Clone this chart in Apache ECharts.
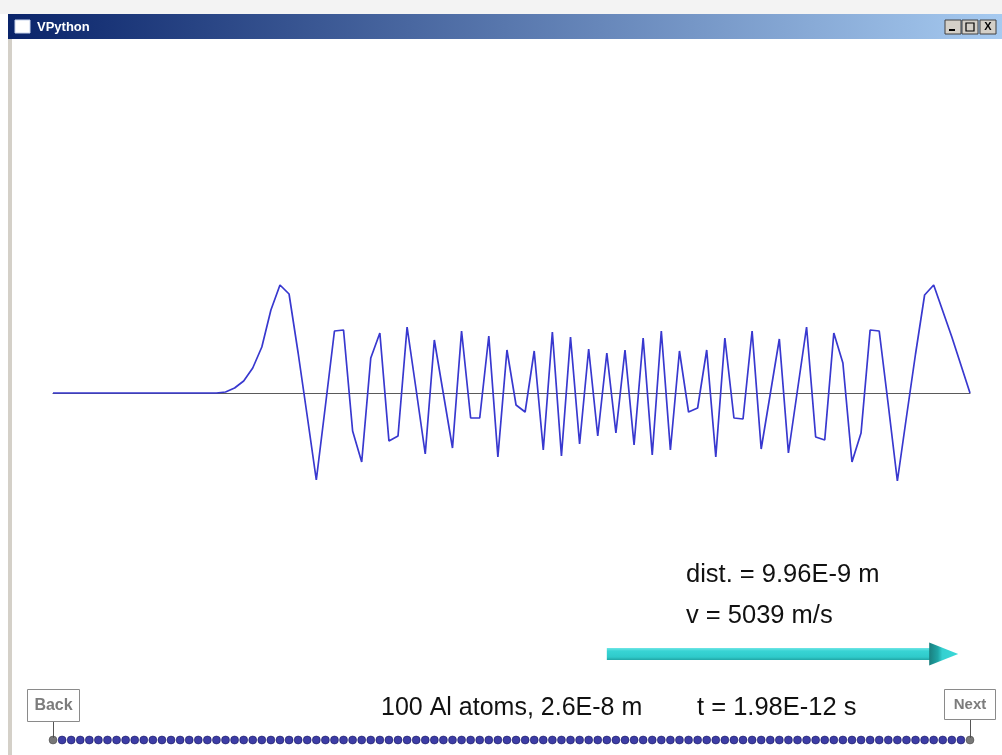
<!DOCTYPE html>
<html>
<head>
<meta charset="utf-8">
<script src="https://cdn.jsdelivr.net/npm/echarts@6.0.0/dist/echarts.min.js"></script>
<style>
html,body{margin:0;padding:0;background:#ffffff;}
#c{width:1002px;height:755px;}
</style>
</head>
<body>
<div id="c"></div>
<script>
// Displacement of each atom in the chain (index 0..101)
const displacement = [
  0, 0, 0, 0, 0, 0, 0, 0, 0, 0,
  0, 0, 0, 0, 0, 0, 0, 0, 0, 1,
  5, 12, 25, 46, 83, 108, 99, 40, -23, -87,
  -13, 62, 63, -38, -69, 35, 60, -48, -43, 66,
  3, -61, 53, -1, -55, 62, -25, -25, 57, -64,
  43, -12, -19, 42, -57, 61, -63, 56, -51, 44,
  -43, 40, -40, 43, -52, 55, -62, 62, -57, 42,
  -19, -15, 43, -64, 55, -25, -26, 62, -56, -1,
  54, -60, 3, 66, -44, -47, 60, 30, -69, -40,
  63, 62, -12, -88, -24, 39, 98, 108, 82, 56,
  28, 0
];
// Atom indices (categories along the chain)
const atomIndex = displacement.map((_, i) => i);
// Fixed end atoms
const endAtoms = [0, displacement.length - 1];
// Level of the atom row and velocity arrow (same units as displacement)
const atomRowLevel = [-347];
const arrowSpan = [61, 99.7];   // from atom index to atom index
const arrowLevel = [-261];
// Text labels
const distLabel = 'dist. = 9.96E-9 m';
const speedLabel = 'v = 5039 m/s';
const chainLabel = '100 Al atoms, 2.6E-8 m';
const timeLabel = 't = 1.98E-12 s';
const windowTitle = 'VPython';

const chart = echarts.init(document.getElementById('c'), null, {renderer: 'canvas'});
const FONT = '"Liberation Sans", Arial, sans-serif';

const option = {
  animation: false,
  backgroundColor: '#ffffff',
  grid: {left: 53, right: 32, top: 38, bottom: 12},
  xAxis: {
    type: 'value', min: 0, max: displacement.length - 1,
    axisLine: {show: true, onZero: true, lineStyle: {color: '#5a5a5a', width: 1.2}},
    axisTick: {show: false}, axisLabel: {show: false}, splitLine: {show: false}
  },
  yAxis: {
    type: 'value', min: -350, max: 355,
    axisLine: {show: false}, axisTick: {show: false}, axisLabel: {show: false}, splitLine: {show: false}
  },
  series: [
    {
      type: 'line',
      data: displacement.map((v, i) => [atomIndex[i], v]),
      showSymbol: false,
      lineStyle: {color: '#3838cf', width: 1.7},
      z: 3
    },
    {
      type: 'scatter',
      data: atomIndex.map(i => ({
        value: [i, atomRowLevel[0]],
        itemStyle: endAtoms.includes(i)
          ? {color: '#555555', borderColor: '#333', borderWidth: 0.5}
          : {color: '#0c0c8e', borderColor: '#06064e', borderWidth: 0.6}
      })),
      symbol: 'circle',
      symbolSize: 8,
      z: 4
    },
    {
      type: 'custom',
      data: [[arrowSpan[0], arrowSpan[1], arrowLevel[0]]],
      renderItem: function (params, api) {
        const s = api.coord([api.value(0), api.value(2)]);
        const e = api.coord([api.value(1), api.value(2)]);
        const headLen = 29, shaftH = 12, headH = 23;
        const shaftEnd = e[0] - headLen;
        return {
          type: 'group',
          children: [
            {
              type: 'rect',
              shape: {x: s[0], y: s[1] - shaftH / 2, width: shaftEnd - s[0] + 1, height: shaftH},
              style: {
                fill: new echarts.graphic.LinearGradient(0, 0, 0, 1, [
                  {offset: 0, color: '#6fe6e6'},
                  {offset: 0.25, color: '#38d4d4'},
                  {offset: 0.75, color: '#2fcaca'},
                  {offset: 1, color: '#22a6a6'}
                ])
              }
            },
            {
              type: 'polygon',
              shape: {points: [[shaftEnd, s[1] - headH / 2], [e[0], s[1]], [shaftEnd, s[1] + headH / 2]]},
              style: {
                fill: new echarts.graphic.LinearGradient(0, 0, 1, 0, [
                  {offset: 0, color: '#1a7f7f'},
                  {offset: 0.3, color: '#1fa5a5'},
                  {offset: 0.45, color: '#34d0d0'},
                  {offset: 1, color: '#3cd8d8'}
                ])
              }
            }
          ]
        };
      },
      z: 5
    }
  ],
  graphic: [
    // window frame
    {type: 'rect', shape: {x: 0, y: 0, width: 1002, height: 14}, style: {fill: '#f3f3f3'}, z: 1},
    {type: 'rect', shape: {x: 8, y: 14, width: 4, height: 741}, style: {fill: '#d4d0c8'}, z: 1},
    {type: 'rect', shape: {x: 8, y: 14, width: 994, height: 25},
      style: {fill: new echarts.graphic.LinearGradient(0, 0, 1, 0, [
        {offset: 0, color: '#0a246a'}, {offset: 1, color: '#a6caf0'}])}, z: 2},
    {type: 'rect', shape: {x: 15, y: 20, width: 15, height: 13}, style: {fill: '#ffffff', stroke: '#c8d4ec', lineWidth: 1}, z: 3},
    {type: 'text', x: 37, y: 27, style: {text: windowTitle, font: 'bold 13px ' + FONT, fill: '#ffffff', textAlign: 'left', textVerticalAlign: 'middle'}, z: 3},
    // title-bar buttons
    {type: 'rect', shape: {x: 945, y: 20, width: 16, height: 14}, style: {fill: '#d4d0c8', stroke: '#404040', lineWidth: 1}, z: 3},
    {type: 'rect', shape: {x: 962, y: 20, width: 16, height: 14}, style: {fill: '#d4d0c8', stroke: '#404040', lineWidth: 1}, z: 3},
    {type: 'rect', shape: {x: 980, y: 20, width: 16, height: 14}, style: {fill: '#d4d0c8', stroke: '#404040', lineWidth: 1}, z: 3},
    {type: 'rect', shape: {x: 949, y: 29, width: 6, height: 2}, style: {fill: '#000'}, z: 4},
    {type: 'rect', shape: {x: 966, y: 23, width: 8, height: 8}, style: {fill: 'none', stroke: '#000', lineWidth: 1.2}, z: 4},
    {type: 'text', x: 988, y: 27, style: {text: 'X', font: 'bold 11px ' + FONT, fill: '#000', textAlign: 'center', textVerticalAlign: 'middle'}, z: 4},
    // labels
    {type: 'text', x: 686, y: 575, style: {text: distLabel, font: '25.5px ' + FONT, fill: '#111111', textAlign: 'left', textVerticalAlign: 'middle'}, z: 6},
    {type: 'text', x: 686, y: 616, style: {text: speedLabel, font: '25.5px ' + FONT, fill: '#111111', textAlign: 'left', textVerticalAlign: 'middle'}, z: 6},
    {type: 'text', x: 381, y: 708, style: {text: chainLabel, font: '25px ' + FONT, fill: '#111111', textAlign: 'left', textVerticalAlign: 'middle'}, z: 6},
    {type: 'text', x: 697, y: 708, style: {text: timeLabel, font: '25.5px ' + FONT, fill: '#111111', textAlign: 'left', textVerticalAlign: 'middle'}, z: 6},
    // Back button
    {type: 'line', shape: {x1: 53.5, y1: 722, x2: 53.5, y2: 738}, style: {stroke: '#555', lineWidth: 1}, z: 3},
    {type: 'rect', shape: {x: 27.5, y: 689.5, width: 52, height: 32}, style: {fill: '#ffffff', stroke: '#8a8a8a', lineWidth: 1}, z: 6},
    {type: 'text', x: 53.5, y: 706, style: {text: 'Back', font: 'bold 16px ' + FONT, fill: '#7c7c7c', textAlign: 'center', textVerticalAlign: 'middle'}, z: 7},
    // Next button
    {type: 'line', shape: {x1: 970.5, y1: 720, x2: 970.5, y2: 738}, style: {stroke: '#555', lineWidth: 1}, z: 3},
    {type: 'rect', shape: {x: 944.5, y: 689.5, width: 51, height: 30}, style: {fill: '#ffffff', stroke: '#8a8a8a', lineWidth: 1}, z: 6},
    {type: 'text', x: 970, y: 705, style: {text: 'Next', font: 'bold 15px ' + FONT, fill: '#7c7c7c', textAlign: 'center', textVerticalAlign: 'middle'}, z: 7}
  ]
};
chart.setOption(option);
</script>
</body>
</html>
